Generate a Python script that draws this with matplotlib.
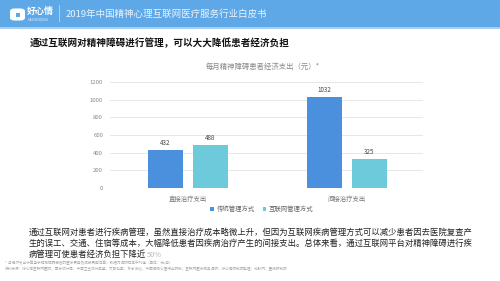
import numpy as np
import matplotlib.pyplot as plt
from matplotlib.patches import Rectangle, FancyBboxPatch

plt.rcParams['font.family'] = ['Noto Sans CJK SC', 'DejaVu Sans']

# data
categories = ['直接治疗支出', '间接治疗支出']
series_names = ['传统管理方式', '互联网管理方式']
traditional = [432, 1032]
internet = [488, 325]
yticks = [0, 200, 400, 600, 800, 1000, 1200]

c_trad = '#4a90dc'
c_net = '#6ccadb'

W, H = 500, 281
fig = plt.figure(figsize=(W / 100, H / 100), dpi=100)
fig.patch.set_facecolor('white')


def px(x, y):
    return x / W, 1 - y / H


# header bar
fig.patches.append(Rectangle((0, 1 - 27 / H), 1, 27 / H, transform=fig.transFigure,
                             facecolor='#5ea8e8', edgecolor='none', zorder=1))
fig.patches.append(Rectangle((0, 1 - 29 / H), 1, 2 / H, transform=fig.transFigure,
                             facecolor='#a9cdf0', edgecolor='none', zorder=1))
fig.patches.append(FancyBboxPatch(px(11, 20), 13 / W, 11 / H, transform=fig.transFigure,
                                  boxstyle='round,pad=0.002,rounding_size=0.01',
                                  facecolor='white', edgecolor='none', zorder=2))
fig.patches.append(Rectangle(px(16, 16.5), 3.5 / W, 4 / H, transform=fig.transFigure,
                             facecolor='#5ea8e8', edgecolor='none', zorder=3))
fig.text(*px(27, 11), '好心情', fontsize=6.5, color='white', fontweight='bold',
         ha='left', va='center', zorder=3)
fig.text(*px(28, 19), 'HAOXINQING', fontsize=2.5, color='#dbeafa', ha='left', va='center', zorder=3)
fig.patches.append(Rectangle(px(59, 22), 0.6 / W, 17 / H, transform=fig.transFigure,
                             facecolor='#a9cdf0', edgecolor='none', zorder=2))
fig.text(*px(66, 14), '2019年中国精神心理互联网医疗服务行业白皮书', fontsize=6.8,
         color='#eaf3fc', ha='left', va='center', zorder=3)

# subtitle
fig.text(*px(30, 43), '通过互联网对精神障碍进行管理，可以大大降低患者经济负担', fontsize=6.9,
         color='#111111', fontweight='bold', ha='left', va='center')

# chart
ax = fig.add_axes([110 / W, 93 / H, 313 / W, 106 / H])
ax.set_facecolor('none')
x = np.arange(len(categories))
bw = 0.22
off = 0.1415
b1 = ax.bar(x - off, traditional, bw, color=c_trad, label=series_names[0], zorder=3)
b2 = ax.bar(x + off, internet, bw, color=c_net, label=series_names[1], zorder=3)
for bars in (b1, b2):
    for r in bars:
        ax.text(r.get_x() + r.get_width() / 2, r.get_height() + 35, f'{int(r.get_height())}',
                ha='center', va='bottom', fontsize=4.5, color='#444444')
ax.set_ylim(0, 1200)
ax.set_xlim(-0.49, 1.478)
ax.set_yticks(yticks)
ax.set_yticklabels([str(v) for v in yticks], fontsize=4.3, color='#888888')
ax.set_xticks(x)
ax.set_xticklabels(categories, fontsize=4.6, color='#777777')
ax.tick_params(length=0, pad=5)
ax.grid(axis='y', color='#dddddd', linewidth=0.5, zorder=0)
for s in ax.spines.values():
    s.set_visible(False)
ax.axhline(0, color='#cccccc', linewidth=0.6, zorder=2)

fig.text(*px(263, 67), '每月精神障碍患者经济支出（元）*', fontsize=5.3, color='#888888',
         ha='center', va='center')

leg = fig.legend(handles=[b1, b2], loc='center', bbox_to_anchor=px(262, 209), ncol=2,
                 frameon=False, fontsize=4.6, handlelength=0.6, handleheight=0.6,
                 handletextpad=0.4, columnspacing=1.2)
for t in leg.get_texts():
    t.set_color('#666666')

# body text
body = ['通过互联网对患者进行疾病管理，虽然直接治疗成本略微上升，但因为互联网疾病管理方式可以减少患者因去医院复查产',
        '生的误工、交通、住宿等成本，大幅降低患者因疾病治疗产生的间接支出。总体来看，通过互联网平台对精神障碍进行疾']
for i, line in enumerate(body):
    fig.text(*px(29, 232 + i * 11.5), line, fontsize=6.0, color='#222222', ha='left', va='center')
fig.text(*px(29, 255), '病管理可使患者经济负担下降近', fontsize=6.0, color='#222222',
         ha='left', va='center')
fig.text(*px(29 + 14 * 8.4, 255), '50%', fontsize=5.3, color='#bbbbbb', ha='left', va='center')

# footnotes
fig.text(*px(5, 263), '*  月经济支出计算基于精神障碍患者的医疗费用及间接费用估算，数据为调研样本平均值（单位：元/月）',
         fontsize=2.6, color='#aaaaaa', ha='left', va='center')
fig.text(*px(5, 269), '资料来源：好心情互联网医院；国家统计局；中国卫生统计年鉴；文献检索；专家访谈；中国精神心理行业研究；互联网医疗服务调研；'
         '好心情研究院整理；动脉网；蛋壳研究院',
         fontsize=2.6, color='#aaaaaa', ha='left', va='center')

fig.savefig('out.png', dpi=100)
